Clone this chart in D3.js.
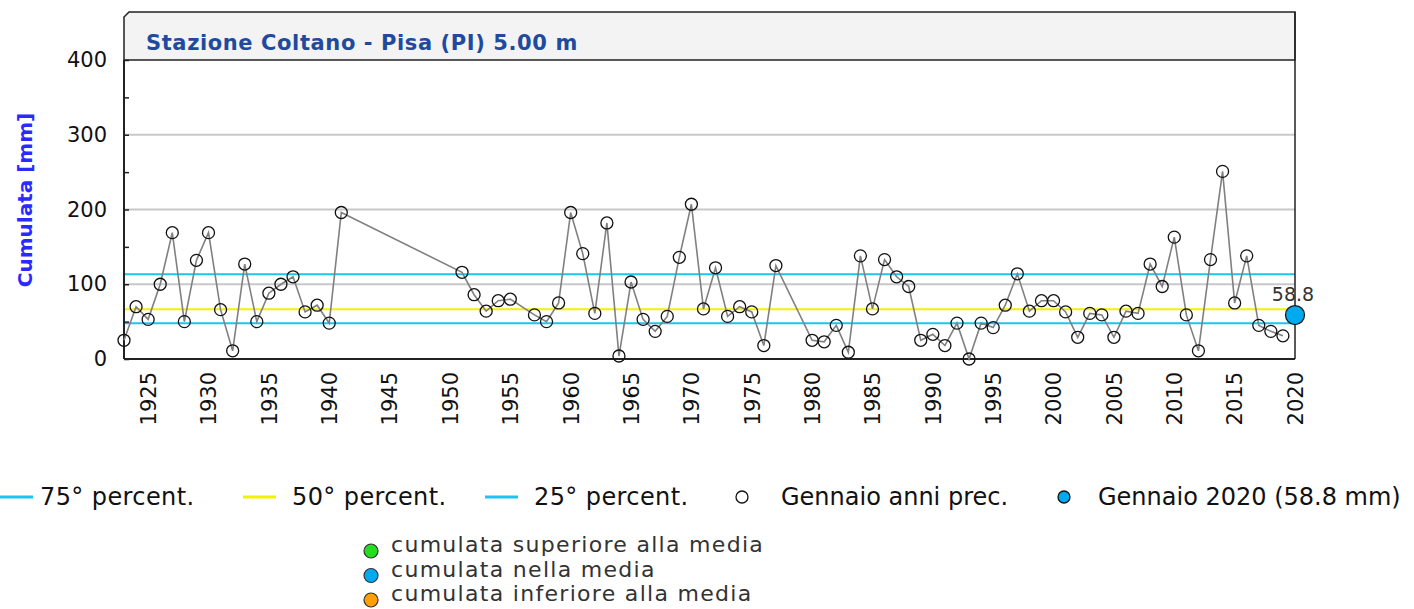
<!DOCTYPE html>
<html>
<head>
<meta charset="utf-8">
<script src="https://cdn.jsdelivr.net/npm/d3@7"></script>
<style>
  body { margin: 0; background: #fff; }
  text { font-family: "DejaVu Sans", Verdana, sans-serif; }
</style>
</head>
<body>
<div id="chart"></div>
<script>
////////
// Data: January rainfall (mm) at Coltano - Pisa, previous years
let years = [
  1923, 1924, 1925, 1926, 1927, 1928, 1929, 1930, 1931, 1932,
  1933, 1934, 1935, 1936, 1937, 1938, 1939, 1940, 1941,
  1951, 1952, 1953, 1954, 1955, 1957, 1958, 1959, 1960,
  1961, 1962, 1963, 1964, 1965, 1966, 1967, 1968, 1969, 1970,
  1971, 1972, 1973, 1974, 1975, 1976, 1977, 1980,
  1981, 1982, 1983, 1984, 1985, 1986, 1987, 1988, 1989, 1990,
  1991, 1992, 1993, 1994, 1995, 1996, 1997, 1998, 1999, 2000,
  2001, 2002, 2003, 2004, 2005, 2006, 2007, 2008, 2009, 2010,
  2011, 2012, 2013, 2014, 2015, 2016, 2017, 2018, 2019
];
let rain = [
  25, 70, 53, 100, 169, 50, 132, 169, 66, 11,
  127, 50, 88, 100, 110, 63, 72, 48, 196,
  116, 86, 64, 78, 80, 59, 50, 75, 196,
  141, 61, 182, 4, 103, 53, 37, 57, 136, 207,
  67, 122, 57, 70, 63, 18, 125, 25,
  23, 45, 9, 138, 67, 133, 110, 97, 25, 33,
  18, 48, 0, 48, 42, 72, 114, 64, 78, 78,
  63, 29, 61, 59, 29, 64, 61, 127, 97, 163,
  59, 11, 133, 251, 75, 138, 45, 37, 31
];

let currentYear = [2020];
let currentValue = [58.8];

// percentile lines
let pctNames = ["75° percent.", "50° percent.", "25° percent."];
let pctValues = [113.3, 66.5, 47.7];
let pctColors = ["#1ec3f3", "#f2f200", "#1ec3f3"];

let yTicks = [0, 100, 200, 300, 400];
let xTicks = d3.range(1925, 2021, 5);

let classNames = ["cumulata superiore alla media", "cumulata nella media", "cumulata inferiore alla media"];
let classColors = ["#22dd22", "#00aaf0", "#ff9f00"];

let dataArray = years.map((y, i) => ({ year: y, value: rain[i] }));


////////
// SVG canvas
let svg_width = 1414;
let svg_height = 609;

let plotLeft = 124, plotRight = 1295, plotTop = 60, plotBottom = 359;

let svg = d3.select("#chart")
  .append("svg")
  .attr("width", svg_width)
  .attr("height", svg_height)


////////
// Scales
let xScale = d3.scaleLinear()
  .domain([1923, 2020])
  .range([plotLeft, plotRight])

let yScale = d3.scaleLinear()
  .domain([0, 400])
  .range([plotBottom, plotTop])


////////
// Title box
svg.append("path")
  .attr("d", `M${plotLeft},${plotTop} L${plotLeft},17 L${plotLeft + 5},12 L${plotRight},12 L${plotRight},${plotTop} Z`)
  .attr("fill", "#f3f3f3")
  .attr("stroke", "#222")
  .attr("stroke-width", 1.5)

svg.append("text")
  .attr("x", 146)
  .attr("y", 50)
  .attr("font-size", 21)
  .attr("font-weight", "bold")
  .attr("letter-spacing", 0.6)
  .attr("fill", "#1f4a9e")
  .text("Stazione Coltano - Pisa (PI) 5.00 m")


////////
// Grid lines
svg.selectAll(".grid")
  .data([100, 200, 300])
  .enter()
  .append("line")
  .attr("x1", plotLeft)
  .attr("x2", plotRight)
  .attr("y1", d => yScale(d))
  .attr("y2", d => yScale(d))
  .attr("stroke", "#c8c8c8")
  .attr("stroke-width", 2)

// percentile lines
svg.selectAll(".pct")
  .data(pctValues)
  .enter()
  .append("line")
  .attr("x1", plotLeft)
  .attr("x2", plotRight)
  .attr("y1", d => yScale(d))
  .attr("y2", d => yScale(d))
  .attr("stroke", (d, i) => pctColors[i])
  .attr("stroke-width", 2)


////////
// Axes
let yAxis = d3.axisLeft(yScale)
  .tickValues(d3.range(0, 401, 50))
  .tickSize(-5)
  .tickPadding(17)
  .tickFormat(d => yTicks.includes(d) ? d : "")

let gy = svg.append("g")
  .attr("transform", `translate(${plotLeft},0)`)
  .call(yAxis)
gy.select(".domain").remove()
gy.selectAll("line").attr("stroke", "#222").attr("stroke-width", 1.5)
gy.selectAll("text")
  .attr("font-family", "'DejaVu Sans Condensed', 'DejaVu Sans', sans-serif")
  .attr("font-size", 21)
  .attr("fill", "#111")

let xAxis = d3.axisBottom(xScale)
  .tickValues(xTicks)
  .tickSize(0)
  .tickFormat(d3.format("d"))

let gx = svg.append("g")
  .attr("transform", `translate(0,${plotBottom})`)
  .call(xAxis)
gx.select(".domain").remove()
gx.selectAll("text")
  .attr("font-size", 21)
  .attr("fill", "#111")
  .attr("text-anchor", "end")
  .attr("transform", "translate(0,13) rotate(-90)")
  .attr("x", 0)
  .attr("y", 0)
  .attr("dy", "0.35em")

// frame lines
svg.append("line")
  .attr("x1", plotLeft).attr("x2", plotLeft).attr("y1", plotTop).attr("y2", plotBottom)
  .attr("stroke", "#222").attr("stroke-width", 2)
svg.append("line")
  .attr("x1", plotLeft).attr("x2", plotRight).attr("y1", plotBottom).attr("y2", plotBottom)
  .attr("stroke", "#222").attr("stroke-width", 2)
svg.append("line")
  .attr("x1", plotRight).attr("x2", plotRight).attr("y1", 12).attr("y2", plotBottom)
  .attr("stroke", "#222").attr("stroke-width", 1.5)

svg.append("text")
  .attr("transform", `translate(32,${(118 + 282) / 2}) rotate(-90)`)
  .attr("text-anchor", "middle")
  .attr("font-size", 20)
  .attr("font-weight", "bold")
  .attr("fill", "#2a2aff")
  .text("Cumulata [mm]")


////////
// Data line and markers
let line = d3.line()
  .x(d => xScale(d.year))
  .y(d => yScale(d.value))

svg.append("path")
  .datum(dataArray)
  .attr("d", line)
  .attr("fill", "none")
  .attr("stroke", "#808080")
  .attr("stroke-width", 1.6)

svg.selectAll(".pt")
  .data(dataArray)
  .enter()
  .append("circle")
  .attr("cx", d => xScale(d.year))
  .attr("cy", d => yScale(d.value))
  .attr("r", 6)
  .attr("fill", "none")
  .attr("stroke", "#111")
  .attr("stroke-width", 1.3)

svg.append("circle")
  .attr("cx", xScale(currentYear[0]))
  .attr("cy", yScale(currentValue[0]))
  .attr("r", 9.5)
  .attr("fill", "#00aaee")
  .attr("stroke", "#1a1a1a")
  .attr("stroke-width", 1.3)

svg.append("text")
  .attr("x", xScale(currentYear[0]) - 2)
  .attr("y", yScale(currentValue[0]) - 14)
  .attr("text-anchor", "middle")
  .attr("font-size", 19)
  .attr("fill", "#333")
  .text(currentValue[0])


////////
// Legend, first row
let legY = 497;
let segX = [0, 243, 485];
pctNames.forEach((name, i) => {
  svg.append("line")
    .attr("x1", segX[i]).attr("x2", segX[i] + 33)
    .attr("y1", legY).attr("y2", legY)
    .attr("stroke", pctColors[i]).attr("stroke-width", 3)
  svg.append("text")
    .attr("x", segX[i] + 40 + (i === 0 ? 0 : 9))
    .attr("y", legY + 8)
    .attr("font-size", 24)
    .attr("letter-spacing", 0.4)
    .attr("fill", "#111")
    .text(name)
})

svg.append("circle")
  .attr("cx", 742).attr("cy", legY).attr("r", 6)
  .attr("fill", "#fff").attr("stroke", "#111").attr("stroke-width", 1.3)
svg.append("text")
  .attr("x", 781).attr("y", legY + 8)
  .attr("font-size", 24).attr("fill", "#111")
  .text("Gennaio anni prec.")

svg.append("circle")
  .attr("cx", 1064).attr("cy", legY).attr("r", 6)
  .attr("fill", "#00aaee").attr("stroke", "#111").attr("stroke-width", 1.3)
svg.append("text")
  .attr("x", 1098).attr("y", legY + 8)
  .attr("font-size", 24).attr("fill", "#111")
  .text("Gennaio 2020 (58.8 mm)")


////////
// Legend, second row
classNames.forEach((name, i) => {
  let cy = 551 + i * 24.5;
  svg.append("circle")
    .attr("cx", 371).attr("cy", cy).attr("r", 7)
    .attr("fill", classColors[i]).attr("stroke", "#333").attr("stroke-width", 1.2)
  svg.append("text")
    .attr("x", 391).attr("y", cy + 1)
    .attr("font-size", 22)
    .attr("letter-spacing", 1.3)
    .attr("fill", "#333")
    .text(name)
})
</script>
</body>
</html>
